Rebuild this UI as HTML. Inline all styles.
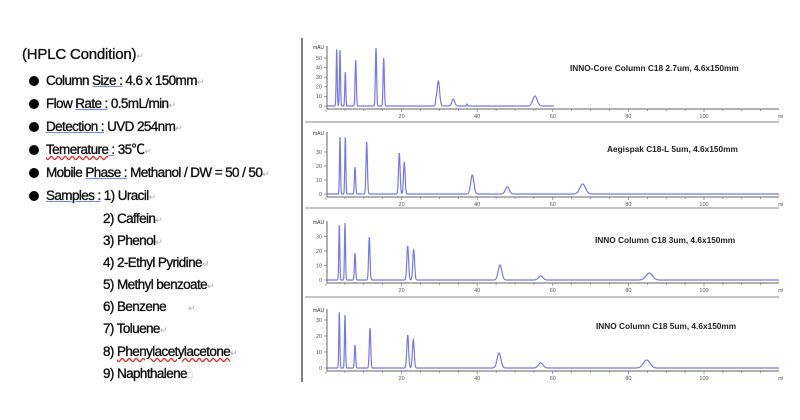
<!DOCTYPE html>
<html><head><meta charset="utf-8"><style>
body{margin:0;width:800px;height:420px;background:#fff;overflow:hidden;position:relative;font-family:"Liberation Sans","Noto Sans CJK KR",sans-serif}
.t{position:absolute;font-size:13.5px;line-height:16px;color:#111;letter-spacing:-0.6px;white-space:nowrap;-webkit-text-stroke:0.35px #111}
.u{text-decoration:underline;text-decoration-color:#6b8fe0}
.r{text-decoration:underline wavy;text-decoration-color:#d33}
.m{color:#aaa;font-size:9px;-webkit-text-stroke:0}
.b{display:inline-block;width:10px;height:10px;border-radius:50%;background:#000;margin-right:7px;vertical-align:-1px}
</style></head><body>
<div class="t" style="left:22px;top:47px;font-size:15px;letter-spacing:-0.2px">(HPLC Condition)<span class="m">↵</span></div>
<div class="t" style="left:29px;top:73px"><span class="b"></span>Column <span class="u">Size :</span> 4.6 x 150mm<span class="m">↵</span></div>
<div class="t" style="left:29px;top:96px"><span class="b"></span>Flow <span class="u">Rate :</span> 0.5mL/min<span class="m">↵</span></div>
<div class="t" style="left:29px;top:119px"><span class="b"></span><span class="u">Detection :</span> UVD 254nm<span class="m">↵</span></div>
<div class="t" style="left:29px;top:142px"><span class="b"></span><span class="r">Temerature</span><span class="u"> :</span> 35℃<span class="m">↵</span></div>
<div class="t" style="left:29px;top:165px"><span class="b"></span>Mobile <span class="u">Phase :</span> Methanol / DW = 50 / 50<span class="m">↵</span></div>
<div class="t" style="left:29px;top:188px"><span class="b"></span><span class="u">Samples :</span> 1) Uracil<span class="m">↵</span></div>
<div class="t" style="left:103px;top:211px">2) Caffein<span class="m">↵</span></div>
<div class="t" style="left:103px;top:233px">3) Phenol<span class="m">↵</span></div>
<div class="t" style="left:103px;top:255px">4) 2-Ethyl Pyridine<span class="m">↵</span></div>
<div class="t" style="left:103px;top:277px">5) Methyl benzoate<span class="m">↵</span></div>
<div class="t" style="left:103px;top:299px">6) Benzene &nbsp;&nbsp;&nbsp;&nbsp;&nbsp;&nbsp;<span class="m">↵</span></div>
<div class="t" style="left:103px;top:321px">7) Toluene<span class="m">↵</span></div>
<div class="t" style="left:103px;top:344px">8) <span class="r">Phenylacetylacetone</span><span class="m">↵</span></div>
<div class="t" style="left:103px;top:366px">9) Naphthalene<span class="m">□</span></div>
<svg id="s" width="800" height="420" style="position:absolute;left:0;top:0"></svg>
<script>
var S=document.getElementById('s'),h='';
h+='<line x1="302" y1="38" x2="302" y2="382" stroke="#555" stroke-width="1.5"/>';
var P=[
{b:106,top:46,ax:109,sep:122,end:554,ticks:[0,10,20,30,40,50],k:0.96,title:'INNO-Core Column C18 2.7um, 4.6x150mm',tx:570,ty:71,
pk:[[336.7,57,.5],[340,56,.5],[345.3,34,.5],[355.7,46,.6],[376,58,.6],[383.7,48,.6],[436,4,.4],[438.3,25,1.3],[453.3,7,1.4],[467,2,.4],[535,10,2.2]]},
{b:194,top:132,ax:197,sep:208,end:779,ticks:[0,10,20,30],k:1.4,title:'Aegispak C18-L 5um, 4.6x150mm',tx:607,ty:152,
pk:[[340,57,.5],[345.3,57,.5],[355,27,.6],[366.7,52,.7],[399.3,41,.8],[404.3,32,.8],[472.3,19,1.6],[507.3,7,2],[582.7,10,2.8]]},
{b:280,top:221,ax:283,sep:297,end:779,ticks:[0,10,20,30],k:1.45,title:'INNO Column C18 3um, 4.6x150mm',tx:595,ty:243,
pk:[[339.3,55,.5],[345,57,.5],[355,27,.6],[369.3,43,.7],[407.7,34,.9],[413.7,30,.9],[500,15,1.8],[540.7,4,2.2],[649.3,7,3.2]]},
{b:368,top:309,ax:371,sep:null,end:779,ticks:[0,10,20,30],k:1.6,title:'INNO Column C18 5um, 4.6x150mm',tx:596,ty:329,
pk:[[339.3,56,.5],[345,53,.5],[355,23,.6],[370,40,.7],[407.7,33,.9],[413.3,28,.9],[499,15,1.9],[540.7,5,2.3],[646.7,8,3.3]]}];
P.forEach(function(p){
 h+='<line x1="327" y1="'+p.top+'" x2="327" y2="'+p.ax+'" stroke="#666" stroke-width="1"/>';
 h+='<line x1="327" y1="'+p.ax+'" x2="779" y2="'+p.ax+'" stroke="#666" stroke-width="1"/>';
 for(var t=0;t<=120;t+=5){var x=326+t*3.78;if(x>779)break;h+='<line x1="'+x+'" y1="'+p.ax+'" x2="'+x+'" y2="'+(p.ax+(t%20==0?3:2))+'" stroke="#666" stroke-width=".6"/>';
  if(t%20==0&&t>0)h+='<text x="'+x+'" y="'+(p.ax+9)+'" font-size="5.5" fill="#555" text-anchor="middle">'+t+'</text>';}
 h+='<text x="778" y="'+(p.ax+9)+'" font-size="5" fill="#555">mi</text>';
 h+='<text x="313" y="'+(p.top+3)+'" font-size="5" fill="#333">mAU</text>';
 p.ticks.forEach(function(v){var y=p.b-v*p.k;h+='<line x1="324" y1="'+y+'" x2="327" y2="'+y+'" stroke="#666" stroke-width=".6"/><text x="322" y="'+(y+1.8)+'" font-size="5.5" fill="#555" text-anchor="end">'+v+'</text>';});
 if(p.sep)h+='<line x1="305" y1="'+p.sep+'" x2="779" y2="'+p.sep+'" stroke="#888" stroke-width="1"/>';
 var d='';for(var x=327;x<=p.end;x+=0.25){var y=p.b;p.pk.forEach(function(q){var z=(x-q[0])/q[2];y-=q[1]*Math.exp(-z*z/2);});d+=(d?'L':'M')+x.toFixed(2)+' '+y.toFixed(2);}
 h+='<path d="'+d+'" fill="none" stroke="#7777ee" stroke-width="1.2"/>';
 h+='<text x="'+p.tx+'" y="'+p.ty+'" font-size="8.3" font-weight="bold" fill="#222">'+p.title+'</text>';
});
S.innerHTML=h;
</script>
</body></html>
